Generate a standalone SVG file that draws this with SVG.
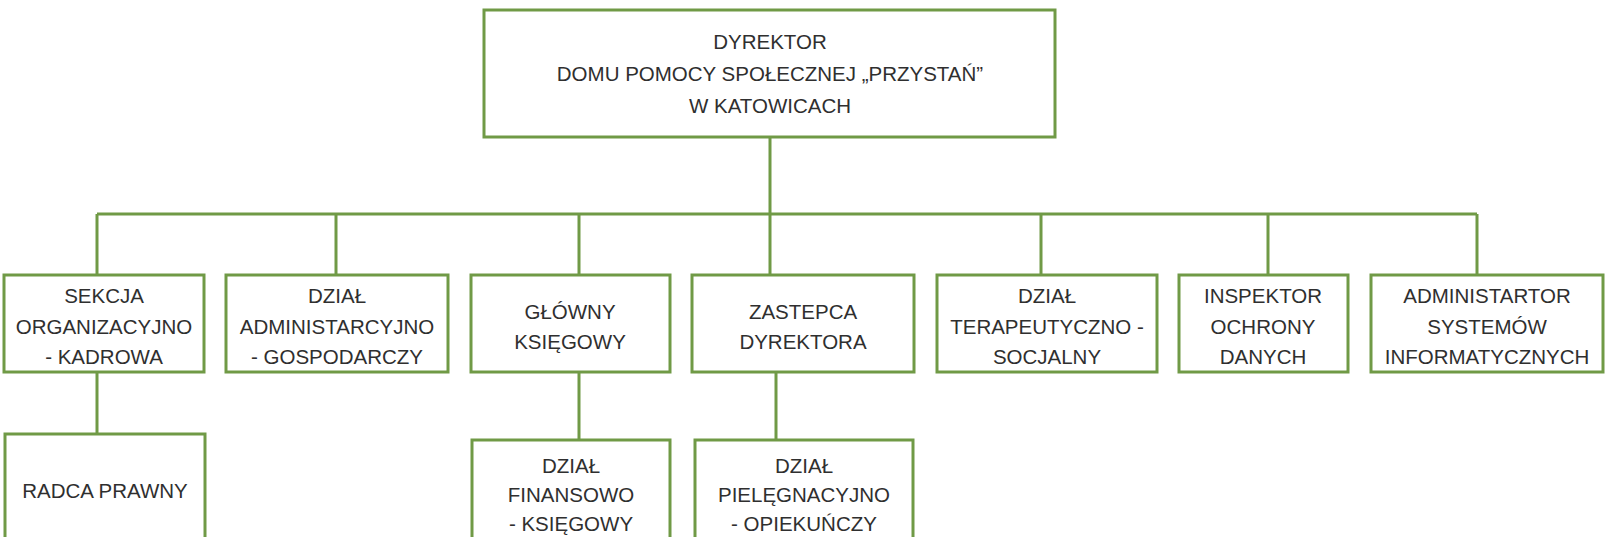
<svg xmlns="http://www.w3.org/2000/svg" width="1608" height="537" viewBox="0 0 1608 537">
<style>
.box{fill:#fff;stroke:#709a46;stroke-width:3}
.ln{fill:none;stroke:#709a46;stroke-width:3}
text{font-family:"Liberation Sans",Arial,sans-serif;font-size:20.5px;fill:#2f2f2f;text-anchor:middle}
</style>
<rect width="1608" height="537" fill="#fff"/>
<g id="connectors">
<path class="ln" d="M770 137V214M97 214H1477M97 214V275M336 214V275M579 214V275M770 214V275M1041 214V275M1268 214V275M1477 214V275"/>
<path class="ln" d="M97 372V434M579 372V440M776 372V440"/>
</g>
<g id="dyrektor"><rect class="box" x="484" y="10" width="571" height="127"/>
<text x="770" y="49">DYREKTOR</text><text x="770" y="81">DOMU POMOCY SPOŁECZNEJ „PRZYSTAŃ”</text><text x="770" y="113">W KATOWICACH</text></g>
<g id="sekcja"><rect class="box" x="4" y="275" width="200" height="97"/>
<text x="104" y="303">SEKCJA</text><text x="104" y="334">ORGANIZACYJNO</text><text x="104" y="364">- KADROWA</text></g>
<g id="admin"><rect class="box" x="226" y="275" width="222" height="97"/>
<text x="337" y="303">DZIAŁ</text><text x="337" y="334">ADMINISTARCYJNO</text><text x="337" y="364">- GOSPODARCZY</text></g>
<g id="ksiegowy"><rect class="box" x="471" y="275" width="199" height="97"/>
<text x="570" y="319">GŁÓWNY</text><text x="570" y="349">KSIĘGOWY</text></g>
<g id="zastepca"><rect class="box" x="692" y="275" width="222" height="97"/>
<text x="803" y="319">ZASTEPCA</text><text x="803" y="349">DYREKTORA</text></g>
<g id="terapeutyczny"><rect class="box" x="937" y="275" width="220" height="97"/>
<text x="1047" y="303">DZIAŁ</text><text x="1047" y="334">TERAPEUTYCZNO -</text><text x="1047" y="364">SOCJALNY</text></g>
<g id="inspektor"><rect class="box" x="1179" y="275" width="169" height="97"/>
<text x="1263" y="303">INSPEKTOR</text><text x="1263" y="334">OCHRONY</text><text x="1263" y="364">DANYCH</text></g>
<g id="administrator"><rect class="box" x="1371" y="275" width="232" height="97"/>
<text x="1487" y="303">ADMINISTARTOR</text><text x="1487" y="334">SYSTEMÓW</text><text x="1487" y="364">INFORMATYCZNYCH</text></g>
<g id="radca"><rect class="box" x="5" y="434" width="200" height="120"/>
<text x="105" y="498">RADCA PRAWNY</text></g>
<g id="finansowy"><rect class="box" x="472" y="440" width="198" height="120"/>
<text x="571" y="473">DZIAŁ</text><text x="571" y="502">FINANSOWO</text><text x="571" y="531">- KSIĘGOWY</text></g>
<g id="pielegnacyjny"><rect class="box" x="695" y="440" width="218" height="120"/>
<text x="804" y="473">DZIAŁ</text><text x="804" y="502">PIELĘGNACYJNO</text><text x="804" y="531">- OPIEKUŃCZY</text></g>
</svg>
